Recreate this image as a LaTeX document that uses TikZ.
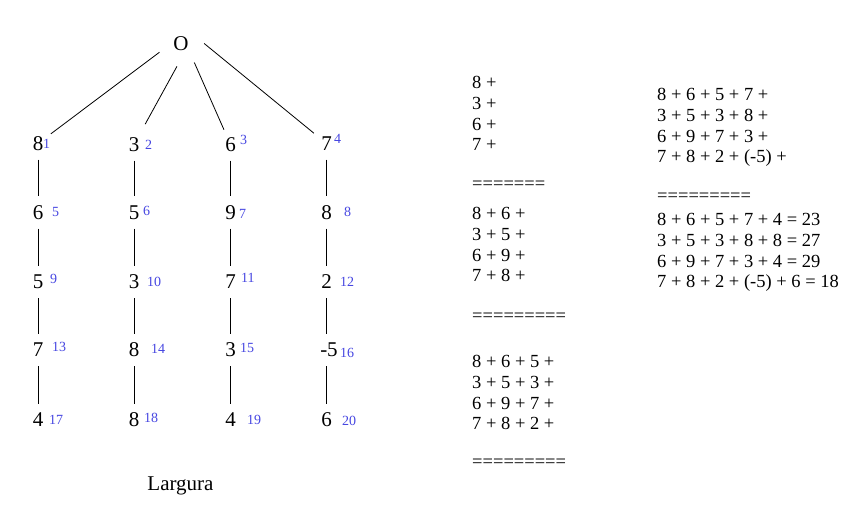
\documentclass[tikz,border=0pt]{standalone}
\usepackage{fontspec}
\setmainfont{Liberation Serif}
\definecolor{idxblue}{RGB}{70,70,225}
\tikzset{
  digit/.style={
    circle, inner sep=0pt, minimum size=32pt,
    font=\fontsize{21}{25}\selectfont
  },
  rootnode/.style={
    circle, inner sep=0pt, minimum size=46pt,
    font=\fontsize{21}{25}\selectfont
  },
  idx/.style={
    anchor=west, inner sep=0pt, text=idxblue,
    font=\fontsize{14}{16}\selectfont
  },
  sumblock/.style={
    anchor=north west, inner sep=0pt, align=left,
    font=\fontsize{18.5}{20.8}\selectfont
  },
  eqline/.style={
    anchor=west, inner sep=0pt,
    font=\fontsize{18.5}{20.8}\selectfont
  },
  branch/.style={line width=0.8pt}
}

\begin{document}
\begin{tikzpicture}[x=1pt, y=-1pt]
  \useasboundingbox (0,0) rectangle (865,528);

  % arvore
  \node[rootnode] (o) at (181,43.5) {O};

  \node[digit] (a1) at (38,143.5) {8};
  \node[digit] (a2) at (38,212.5) {6};
  \node[digit] (a3) at (38,282) {5};
  \node[digit] (a4) at (38,350) {7};
  \node[digit] (a5) at (38,420) {4};

  \node[digit] (b1) at (134,144.5) {3};
  \node[digit] (b2) at (134,212.5) {5};
  \node[digit] (b3) at (134,282) {3};
  \node[digit] (b4) at (134,350) {8};
  \node[digit] (b5) at (134,420) {8};

  \node[digit] (c1) at (230.5,144.5) {6};
  \node[digit] (c2) at (230.5,212.5) {9};
  \node[digit] (c3) at (230.5,282) {7};
  \node[digit] (c4) at (230.5,350) {3};
  \node[digit] (c5) at (230.5,420) {4};

  \node[digit] (d1) at (326.5,143.5) {7};
  \node[digit] (d2) at (326.5,212.5) {8};
  \node[digit] (d3) at (326.5,282) {2};
  \node[digit] (d4) at (329,350) {-5};
  \node[digit] (d5) at (326.5,420) {6};

  % numeracao
  \node[idx] (s1) at (43,143.5) {1};
  \node[idx] (s2) at (145,145) {2};
  \node[idx] (s3) at (240,140) {3};
  \node[idx] (s4) at (334,138.5) {4};
  \node[idx] (s5) at (52,212) {5};
  \node[idx] (s6) at (143,211) {6};
  \node[idx] (s7) at (239,214) {7};
  \node[idx] (s8) at (344,212) {8};
  \node[idx] (s9) at (50,279) {9};
  \node[idx] (s10) at (147,282) {10};
  \node[idx] (s11) at (241,278) {11};
  \node[idx] (s12) at (340,282) {12};
  \node[idx] (s13) at (52,347) {13};
  \node[idx] (s14) at (151,349) {14};
  \node[idx] (s15) at (240,348) {15};
  \node[idx] (s16) at (340,353) {16};
  \node[idx] (s17) at (49,420) {17};
  \node[idx] (s18) at (144,418) {18};
  \node[idx] (s19) at (247,420) {19};
  \node[idx] (s20) at (342,421) {20};

  \node[anchor=base, font=\fontsize{21}{25}\selectfont] (larg) at (180.5,490) {Largura};

  \draw[branch] (o.202) -- (a1);
  \draw[branch, shorten >=7pt] (o.260) -- (b1);
  \draw[branch] (o.305) -- (c1);
  \draw[branch] (o.0) -- (d1);

  \draw[branch] (a1) -- (a2) -- (a3) -- (a4) -- (a5);
  \draw[branch] (b1) -- (b2) -- (b3) -- (b4) -- (b5);
  \draw[branch] (c1) -- (c2) -- (c3) -- (c4) -- (c5);
  \draw[branch] (d1) -- (d2) -- (d3);
  \draw[branch] (d3) -- (d3 |- d4.north);
  \draw[branch] (d4.south -| d5) -- (d5);

  % somas
  \node[sumblock] (p1) at (472,76) {8 +\\3 +\\6 +\\7 +};
  \node[eqline] (q1) at (472,185.5) {=======};
  \node[sumblock] (p2) at (472,207) {8 + 6 +\\3 + 5 +\\6 + 9 +\\7 + 8 +};
  \node[eqline] (q2) at (472,317) {=========};
  \node[sumblock] (p3) at (472,355) {8 + 6 + 5 +\\3 + 5 + 3 +\\6 + 9 + 7 +\\7 + 8 + 2 +};
  \node[eqline] (q3) at (472,463) {=========};

  \node[sumblock] (p4) at (657,88) {8 + 6 + 5 + 7 +\\3 + 5 + 3 + 8 +\\6 + 9 + 7 + 3 +\\7 + 8 + 2 + (-5) +};
  \node[eqline] (q4) at (657,197.5) {=========};
  \node[sumblock] (p5) at (657,213) {8 + 6 + 5 + 7 + 4 = 23\\3 + 5 + 3 + 8 + 8 = 27\\6 + 9 + 7 + 3 + 4 = 29\\7 + 8 + 2 + (-5) + 6 = 18};
\end{tikzpicture}
\end{document}
